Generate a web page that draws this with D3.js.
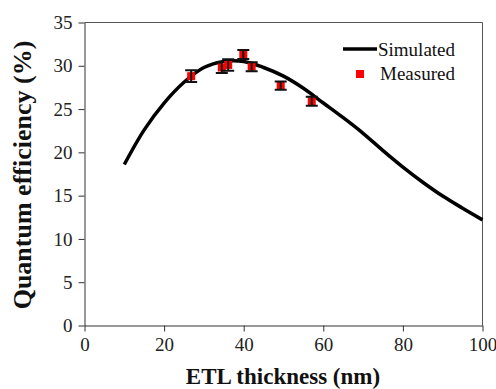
<html>

<head>
    <style>
        body { margin: 0; background: white; }
    </style>
</head>

<body>
    <svg id="container" height="389" width="496"></svg>
</body>
<script src="https://cdn.jsdelivr.net/npm/d3@7"></script>
<script>
    // simulated curve
    let simX = [10, 15, 20, 25, 30, 35, 40, 45, 50, 55, 60, 65, 70, 75, 80, 85, 90, 95, 100]
    let simY = [18.6, 22.6, 25.7, 28.1, 29.8, 30.5, 30.5, 29.8, 28.8, 27.4, 25.7, 24.0, 22.2, 20.2, 18.3, 16.55, 14.95, 13.55, 12.2]

    // measured points
    let measX = [26.8, 34.5, 36.1, 39.9, 42.0, 49.3, 57.1]
    let measY = [28.8, 29.8, 30.1, 31.3, 29.9, 27.7, 25.9]
    let measErr = [0.68, 0.64, 0.66, 0.52, 0.52, 0.48, 0.52]

    let xTicks = [0, 20, 40, 60, 80, 100]
    let yTicks = [0, 5, 10, 15, 20, 25, 30, 35]

    let serif = "'Liberation Serif', 'Times New Roman', 'DejaVu Serif', serif"
    let svg = d3.select("#container")
    let pLeft = 84.5, pRight = 482.5, pTop = 22.5, pBottom = 325.5

    let x = d3.scaleLinear().domain([0, 100]).range([pLeft, pRight])
    let y = d3.scaleLinear().domain([0, 35]).range([pBottom, pTop])

    // frame (top and right)
    svg.append("path")
        .attr("d", "M" + pLeft + "," + pTop + "H" + pRight + "V" + pBottom)
        .attr("fill", "none")
        .attr("stroke", "#555")
        .attr("stroke-width", 1)

    svg.append("g")
        .attr("transform", "translate(0," + pBottom + ")")
        .call(d3.axisBottom(x).tickValues(xTicks).tickSize(6).tickPadding(6).tickSizeOuter(0))
    svg.append("g")
        .attr("transform", "translate(" + pLeft + ",0)")
        .call(d3.axisLeft(y).tickValues(yTicks).tickSize(6).tickPadding(6).tickSizeOuter(0))
    svg.selectAll(".domain, .tick line").attr("stroke", "#333")
    svg.selectAll(".tick text")
        .attr("font-family", serif)
        .attr("font-size", 19)
        .attr("fill", "#222")

    // simulated line
    let sim = simX.map((v, i) => ({ x: v, y: simY[i] }))
    let line = d3.line()
        .x(d => x(d.x))
        .y(d => y(d.y))
        .curve(d3.curveCatmullRom)
    svg.append("path")
        .datum(sim)
        .attr("d", line)
        .attr("fill", "none")
        .attr("stroke", "black")
        .attr("stroke-width", 3.5)

    // measured points with error bars
    let meas = measX.map((v, i) => ({ x: v, y: measY[i], e: measErr[i] }))
    let g = svg.selectAll(".pt").data(meas).enter().append("g")
    g.append("rect")
        .attr("x", d => x(d.x) - 4)
        .attr("y", d => y(d.y) - 4)
        .attr("width", 8)
        .attr("height", 8)
        .attr("fill", "red")
    g.append("path")
        .attr("d", d => {
            let cx = x(d.x), y1 = y(d.y + d.e), y2 = y(d.y - d.e)
            return "M" + (cx - 6) + "," + y1 + "H" + (cx + 6) +
                "M" + cx + "," + y1 + "V" + y2 +
                "M" + (cx - 6) + "," + y2 + "H" + (cx + 6)
        })
        .attr("fill", "none")
        .attr("stroke", "#111")
        .attr("stroke-width", 2)

    // axis titles
    svg.append("text")
        .attr("x", 283)
        .attr("y", 384)
        .attr("text-anchor", "middle")
        .attr("font-family", serif)
        .attr("font-weight", "bold")
        .attr("font-size", 23)
        .attr("fill", "#111")
        .text("ETL thickness (nm)")
    svg.append("text")
        .attr("transform", "translate(31,175) rotate(-90)")
        .attr("text-anchor", "middle")
        .attr("font-family", serif)
        .attr("font-weight", "bold")
        .attr("font-size", 26)
        .attr("fill", "#111")
        .text("Quantum efficiency (%)")

    // legend
    svg.append("line")
        .attr("x1", 343).attr("x2", 377)
        .attr("y1", 49).attr("y2", 49)
        .attr("stroke", "black")
        .attr("stroke-width", 3.5)
    svg.append("text")
        .attr("x", 378).attr("y", 56)
        .attr("font-family", serif).attr("font-size", 19).attr("fill", "#111")
        .text("Simulated")
    svg.append("rect")
        .attr("x", 356).attr("y", 70)
        .attr("width", 8).attr("height", 8)
        .attr("fill", "red")
    svg.append("text")
        .attr("x", 380).attr("y", 80)
        .attr("font-family", serif).attr("font-size", 19).attr("fill", "#111")
        .text("Measured")
</script>

</html>
